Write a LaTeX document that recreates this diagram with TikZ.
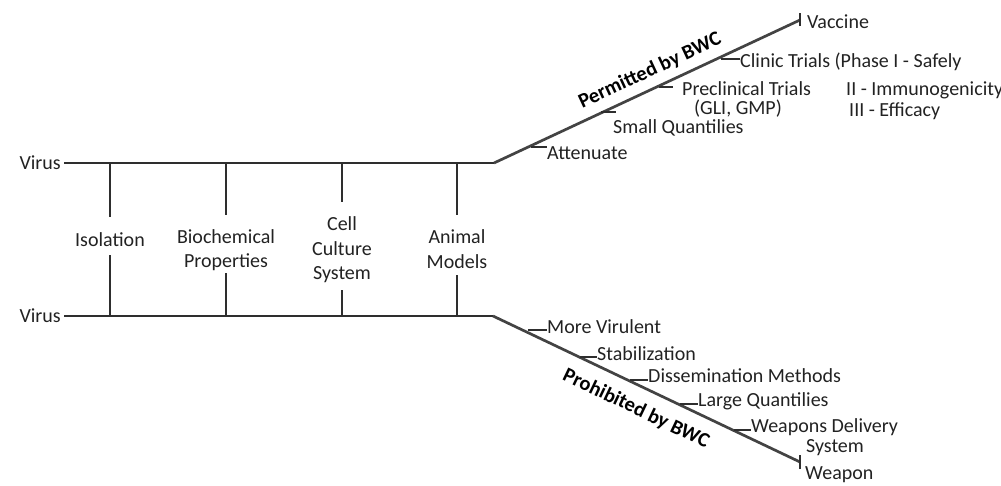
\documentclass[tikz,border=0pt]{standalone}
\usepackage{fontspec}
\setmainfont{Carlito}
\definecolor{ink}{HTML}{222222}
\definecolor{lineink}{HTML}{2E2E2E}
\begin{document}
\begin{tikzpicture}[x=1pt,y=-1pt,
  lab/.style={font=\fontsize{20}{24.5}\selectfont, text=ink, inner sep=0pt, align=center},
  rlab/.style={font=\fontsize{20}{20}\selectfont, text=ink, inner sep=0pt, anchor=base west},
  clab/.style={font=\fontsize{20}{20}\selectfont, text=ink, inner sep=0pt, anchor=base},
  main/.style={line width=2.5pt, draw=lineink},
  diag/.style={line width=2.7pt, draw=lineink!90},
  rung/.style={line width=2.1pt, draw=lineink},
  tick/.style={line width=1.5pt, draw=lineink},
  bwc/.style={font=\fontsize{20.5}{20.5}\selectfont\bfseries, text=black, inner sep=0pt}]
\useasboundingbox (0,0) rectangle (1001,485);

% Virus labels
\node[rlab, anchor=base east] (v1) at (61,169) {Virus};
\node[rlab, anchor=base east] (v2) at (61,322) {Virus};

% corners and ends
\coordinate (c1) at (494,163);
\coordinate (vac) at (800,20);
\coordinate (c2) at (493,316);
\coordinate (wep) at (800,462);

\draw[main] ([xshift=3pt]v1.east |- c1) -- (c1);
\draw[diag] (c1) -- (vac);
\draw[main] ([xshift=3pt]v2.east |- c2) -- (c2);
\draw[diag] (c2) -- (wep);
\draw[tick] ([yshift=-6pt]vac) -- ([yshift=7pt]vac);
\draw[tick] ([yshift=-7pt]wep) -- ([yshift=7pt]wep);

% middle labels
\node[lab] (iso) at (110,239.5) {Isolation};
\node[lab] (bio) at (226,250) {Biochemical\\Properties};
\node[lab] (cell) at (342,250) {Cell\\Culture\\System};
\node[lab] (ani) at (457,249) {Animal\\Models};

% rungs
\coordinate (r1t) at (110,163); \coordinate (r1a) at (110,217);
\coordinate (r1b) at (110,255); \coordinate (r1l) at (110,316);
\coordinate (r2t) at (226,163); \coordinate (r2a) at (226,215);
\coordinate (r2b) at (226,273); \coordinate (r2l) at (226,316);
\coordinate (r3t) at (342,163); \coordinate (r3a) at (342,202);
\coordinate (r3b) at (342,290); \coordinate (r3l) at (342,316);
\coordinate (r4t) at (457,163); \coordinate (r4a) at (457,215);
\coordinate (r4b) at (457,275); \coordinate (r4l) at (457,316);
\draw[rung] (r1t) -- (r1a); \draw[rung] (r1b) -- (r1l);
\draw[rung] (r2t) -- (r2a); \draw[rung] (r2b) -- (r2l);
\draw[rung] (r3t) -- (r3a); \draw[rung] (r3b) -- (r3l);
\draw[rung] (r4t) -- (r4a); \draw[rung] (r4b) -- (r4l);

% upper branch labels
\node[rlab] (vacl) at (807,28) {Vaccine};
\node[rlab] (att) at (547,159) {Attenuate};
\node[rlab] (smq) at (613,133) {Small Quantilies};
\node[rlab] (pre) at (682,95) {Preclinical Trials};
\node[clab] (gli) at (738,114) {(GLI, GMP)};
\node[rlab] (cli) at (740,67) {Clinic Trials (Phase I - Safely};
\node[rlab] (imm) at (846,95) {II - Immunogenicity};
\node[rlab] (eff) at (849,116) {III - Efficacy};

\coordinate (tatt) at (531,147);
\coordinate (tsmq) at (601,112);
\coordinate (tpre) at (659,87);
\coordinate (tcli) at (721,59);
\draw[tick] (tatt) -- (tatt -| att.west);
\draw[tick] (tsmq) -- ++(15,0);
\draw[tick] (tpre) -- ++(14,0);
\draw[tick] (tcli) -- (tcli -| cli.west);

% lower branch labels
\node[rlab] (mv) at (547,333) {More Virulent};
\node[rlab] (stab) at (597,360) {Stabilization};
\node[rlab] (dis) at (648,382) {Dissemination Methods};
\node[rlab] (lq) at (698,406) {Large Quantilies};
\node[rlab] (wds) at (751,432) {Weapons Delivery};
\node[clab] (sys) at (835,452) {System};
\node[rlab] (wepl) at (805,479) {Weapon};

\coordinate (tmv) at (528,330);
\coordinate (tstab) at (580,357);
\coordinate (tdis) at (630,380);
\coordinate (tlq) at (680,404);
\coordinate (twds) at (734,430);
\draw[tick] (tmv) -- (tmv -| mv.west);
\draw[tick] (tstab) -- (tstab -| stab.west);
\draw[tick] (tdis) -- (tdis -| dis.west);
\draw[tick] (tlq) -- (tlq -| lq.west);
\draw[tick] (twds) -- (twds -| wds.west);

% BWC labels
\node[bwc, rotate=25.05] (perm) at (650,71) {Permitted by BWC};
\node[bwc, rotate=-25.6] (proh) at (636,409) {Prohibited by BWC};
\end{tikzpicture}
\end{document}
